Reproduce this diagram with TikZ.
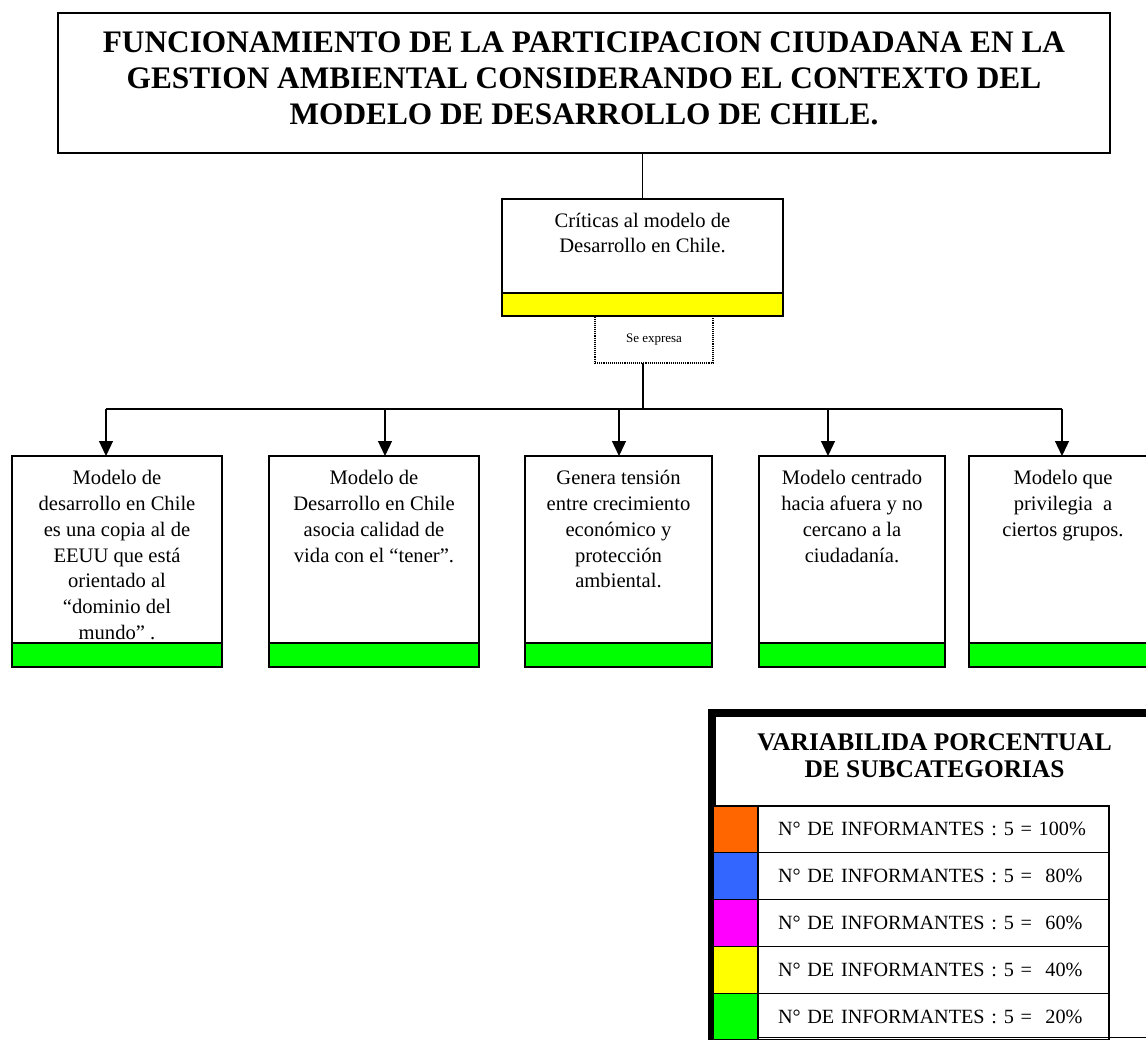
\documentclass[tikz,border=0pt]{standalone}
\usepackage{fontspec}
\setmainfont{Liberation Serif}
\usetikzlibrary{arrows.meta}
\definecolor{lorange}{HTML}{FF6600}
\definecolor{lblue}{HTML}{3366FF}
\definecolor{lmag}{HTML}{FF00FF}
\definecolor{lyel}{HTML}{FFFF00}
\definecolor{lgreen}{HTML}{00FF00}
\newcommand{\bxtext}[3]{\parbox[c][#2][t]{#1}{\centering\vspace*{11pt}\strut #3\par}}
\begin{document}
\begin{tikzpicture}[x=1pt,y=-1pt,
  every node/.style={inner sep=0pt, outer sep=0pt},
  line/.style={line width=1.3pt},
  wbox/.style={draw, line width=1.3pt, fill=white, anchor=north west, font=\fontsize{20.6}{25.7}\selectfont},
  colbar/.style={draw, line width=1.3pt, anchor=north west, minimum height=24pt},
  arr/.style={line width=1.3pt, -{Triangle[width=14pt,length=15pt]}},
  ccell/.style={draw, line width=1.2pt, anchor=north west, minimum width=45pt, minimum height=46.8pt},
  tcell/.style={draw, line width=1.2pt, anchor=north west, text width=311pt, inner xsep=20pt, minimum height=46.8pt, align=left, font=\fontsize{20.2}{24}\selectfont}
]
\useasboundingbox (0,0) rectangle (1146,1039);

% title
\node[draw, line width=1.5pt, minimum width=1052pt, minimum height=140pt,
      font=\fontsize{31.3}{36}\selectfont\bfseries] (title) at (584,83)
  {\parbox{1045pt}{\centering FUNCIONAMIENTO DE LA PARTICIPACION CIUDADANA EN LA\\
   GESTION AMBIENTAL CONSIDERANDO EL CONTEXTO DEL\\
   MODELO DE DESARROLLO DE CHILE.\par\vspace{10pt}}};

% criticas
\node[wbox, line width=1.5pt, minimum width=281pt, minimum height=94pt,
      font=\fontsize{20.6}{25}\selectfont] (crit) at (502,199)
  {\bxtext{277pt}{94pt}{Críticas al modelo de\\Desarrollo en Chile.}};
\node[colbar, line width=1.5pt, fill=lyel, minimum width=281pt, minimum height=23pt] (critbar) at (crit.south west) {};

\node[draw, line width=1.1pt, densely dotted, minimum width=118pt, minimum height=47pt,
      anchor=north, font=\fontsize{13}{15}\selectfont] (se) at (654,316) {Se expresa};

% boxes
\node[wbox, minimum width=210pt, minimum height=187pt] (b1) at (12,456)
  {\bxtext{206pt}{187pt}{Modelo de\\desarrollo en Chile\\es una copia al de\\EEUU que está\\orientado al\\“dominio del\\mundo” .}};
\node[wbox, minimum width=210pt, minimum height=187pt] (b2) at (269,456)
  {\bxtext{206pt}{187pt}{Modelo de\\Desarrollo en Chile\\asocia calidad de\\vida con el “tener”.}};
\node[wbox, minimum width=187pt, minimum height=187pt] (b3) at (525,456)
  {\bxtext{183pt}{187pt}{Genera tensión\\entre crecimiento\\económico y\\protección\\ambiental.}};
\node[wbox, minimum width=186pt, minimum height=187pt] (b4) at (759,456)
  {\bxtext{182pt}{187pt}{Modelo centrado\\hacia afuera y no\\cercano a la\\ciudadanía.}};
\node[wbox, minimum width=188pt, minimum height=187pt] (b5) at (969,456)
  {\bxtext{184pt}{187pt}{Modelo que\\privilegia\ \ a\\ciertos grupos.}};

\node[colbar, fill=lgreen, minimum width=210pt] (g1) at (b1.south west) {};
\node[colbar, fill=lgreen, minimum width=210pt] (g2) at (b2.south west) {};
\node[colbar, fill=lgreen, minimum width=187pt] (g3) at (b3.south west) {};
\node[colbar, fill=lgreen, minimum width=186pt] (g4) at (b4.south west) {};
\node[colbar, fill=lgreen, minimum width=188pt] (g5) at (b5.south west) {};

% connectors
\draw[line] (crit.north |- title.south) -- (crit.north);
\coordinate (hub) at (643,409);
\draw[line] (hub |- se.south) -- (hub);
\coordinate (a1) at (106,409);
\coordinate (a2) at (385,409);
\coordinate (a3) at (619,409);
\coordinate (a4) at (828,409);
\coordinate (a5) at (1062,409);
\draw[line] (a1) -- (a5);
\foreach \k in {1,...,5} \draw[arr] (a\k) -- (a\k |- b\k.north);

% legend frame
\draw[line width=1pt] (712,1037) -- (1170,1037);
\draw[line width=8pt] (712,1050) -- (712,713) -- (1170,713);

\node[font=\fontsize{25.4}{27}\selectfont\bfseries, align=center] (legt) at (934.5,756)
  {VARIABILIDA PORCENTUAL\\DE SUBCATEGORIAS};

\node[ccell, fill=lorange] (c1) at (713,806) {};
\node[ccell, fill=lblue] (c2) at (713,852.8) {};
\node[ccell, fill=lmag] (c3) at (713,899.6) {};
\node[ccell, fill=lyel] (c4) at (713,946.4) {};
\node[ccell, fill=lgreen] (c5) at (713,993.2) {};
\node[tcell] (t1) at (c1.north east) {\mbox{N° DE INFORMANTES : 5 = 100\%}};
\node[tcell] (t2) at (c2.north east) {\mbox{N° DE INFORMANTES : 5 =\ \ 80\%}};
\node[tcell] (t3) at (c3.north east) {\mbox{N° DE INFORMANTES : 5 =\ \ 60\%}};
\node[tcell] (t4) at (c4.north east) {\mbox{N° DE INFORMANTES : 5 =\ \ 40\%}};
\node[tcell] (t5) at (c5.north east) {\mbox{N° DE INFORMANTES : 5 =\ \ 20\%}};
\end{tikzpicture}
\end{document}
